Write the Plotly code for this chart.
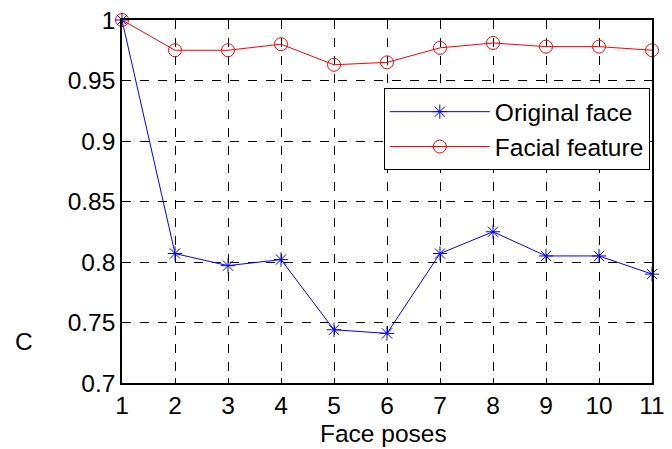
import plotly.graph_objects as go

poses = [1, 2, 3, 4, 5, 6, 7, 8, 9, 10, 11]
original_face = [1.0, 0.807, 0.797, 0.802, 0.744, 0.741, 0.807, 0.825, 0.805, 0.805, 0.790]
facial_feature = [1.0, 0.975, 0.975, 0.980, 0.963, 0.965, 0.977, 0.981, 0.978, 0.978, 0.975]
y_ticks = [0.7, 0.75, 0.8, 0.85, 0.9, 0.95, 1.0]
y_tick_labels = ["0.7", "0.75", "0.8", "0.85", "0.9", "0.95", "1"]

FONT = "Arial, Liberation Sans"
FS = 24.5

fig = go.Figure()
fig.add_trace(go.Scatter(
    x=poses, y=original_face, name="Original face", mode="lines+markers",
    line=dict(color="#0000ff", width=1),
    marker=dict(symbol="asterisk-open", size=12, color="#0000ff", line=dict(color="#0000ff", width=1)),
    cliponaxis=False))
fig.add_trace(go.Scatter(
    x=poses, y=facial_feature, name="Facial feature", mode="lines+markers",
    line=dict(color="#ff0000", width=1),
    marker=dict(symbol="circle-open", size=13, color="#ff0000", line=dict(color="#ff0000", width=1)),
    cliponaxis=False))

axis_common = dict(
    showline=True, linecolor="black", linewidth=1.5, mirror="ticks",
    ticks="inside", ticklen=5, tickcolor="black",
    showgrid=True, gridcolor="black", griddash="dash", gridwidth=1,
    zeroline=False, tickfont=dict(family=FONT, size=FS, color="black"),
    ticklabeloverflow="allow",
)
fig.update_xaxes(range=[1, 11], tickvals=poses, ticktext=[str(p) for p in poses], **axis_common)
fig.update_yaxes(range=[0.7, 1.0], tickvals=y_ticks, ticktext=y_tick_labels, **axis_common)

fig.update_layout(
    width=672, height=449,
    margin=dict(l=122, r=7, t=19, b=66),
    paper_bgcolor="white", plot_bgcolor="white",
    font=dict(family=FONT, size=FS, color="black"),
    showlegend=True,
    legend=dict(x=0.494, y=0.812, xanchor="left", yanchor="top",
                bgcolor="white", bordercolor="black", borderwidth=1,
                font=dict(size=FS), itemwidth=100, tracegroupgap=0),
    annotations=[
        dict(text="C", x=-0.185, y=0.115, xref="paper", yref="paper", showarrow=False,
             xanchor="center", yanchor="middle", font=dict(size=FS)),
        dict(text="Face poses", x=0.493, y=-0.14, xref="paper", yref="paper", showarrow=False,
             xanchor="center", yanchor="middle", font=dict(size=FS)),
    ],
)

fig.write_html("out.html")
